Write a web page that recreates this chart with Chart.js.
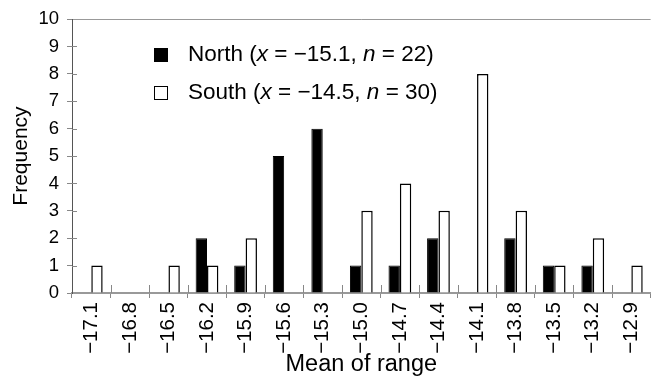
<!DOCTYPE html>
<html>
<head>
<meta charset="utf-8">
<script src="https://cdn.jsdelivr.net/npm/chart.js@4/dist/chart.umd.min.js"></script>
<style>
html, body { margin: 0; padding: 0; background: #fff; overflow: hidden; }
#caixa { width: 660px; height: 376px; position: relative; }
</style>
</head>
<body>
<div id="caixa"><canvas id="grafico"></canvas></div>
<script>
// categorias (média da amplitude)
const categorias = ['−17.1', '−16.8', '−16.5', '−16.2', '−15.9', '−15.6', '−15.3', '−15.0',
                    '−14.7', '−14.4', '−14.1', '−13.8', '−13.5', '−13.2', '−12.9'];
const north = [0, 0, 0, 2, 1, 5, 6, 1, 1, 2, 0, 2, 1, 1, 0];
const south = [1, 0, 1, 1, 2, 0, 0, 3, 4, 3, 8, 3, 1, 2, 1];
const yTicks = [0, 1, 2, 3, 4, 5, 6, 7, 8, 9, 10];

const legendaNorth = { nome: 'North', media: '−15.1', n: '22' };
const legendaSouth = { nome: 'South', media: '−14.5', n: '30' };

const FONTE = '"Liberation Sans", Arial, sans-serif';

// legenda com x e n em itálico, desenhada dentro do gráfico
const legendaPlugin = {
    id: 'legendaItalico',
    afterDraw(chart) {
        const ctx = chart.ctx;
        const linhas = [
            { item: legendaNorth, fill: '#000', y: 55 },
            { item: legendaSouth, fill: '#fff', y: 93 }
        ];
        ctx.save();
        ctx.textBaseline = 'middle';
        linhas.forEach(l => {
            ctx.fillStyle = l.fill;
            ctx.fillRect(154, l.y - 7, 14, 14);
            ctx.strokeStyle = '#000';
            ctx.lineWidth = 1;
            ctx.strokeRect(154.5, l.y - 6.5, 13, 13);
            const partes = [
                [l.item.nome + ' (', false],
                ['x', true],
                [' = ' + l.item.media + ', ', false],
                ['n', true],
                [' = ' + l.item.n + ')', false]
            ];
            let x = 188;
            ctx.fillStyle = '#000';
            partes.forEach(p => {
                ctx.font = (p[1] ? 'italic ' : '') + '22.5px ' + FONTE;
                ctx.fillText(p[0], x, l.y);
                x += ctx.measureText(p[0]).width;
            });
        });
        ctx.restore();
    }
};

// parte interna dos traços dos eixos (os traços cruzam o eixo)
const tracosPlugin = {
    id: 'tracos',
    afterDraw(chart) {
        const ctx = chart.ctx;
        const xs = chart.scales.x, ys = chart.scales.y;
        const area = chart.chartArea;
        ctx.save();
        ctx.strokeStyle = '#888';
        ctx.lineWidth = 1;
        ctx.beginPath();
        yTicks.forEach(v => {
            if (v === 0 || v === 10) return;
            const py = Math.round(ys.getPixelForValue(v)) + 0.5;
            ctx.moveTo(area.left, py);
            ctx.lineTo(area.left + 5, py);
        });
        for (let i = 1; i < categorias.length; i++) {
            const px = Math.round((xs.getPixelForTick(i - 1) + xs.getPixelForTick(i)) / 2) + 0.5;
            ctx.moveTo(px, area.bottom);
            ctx.lineTo(px, area.bottom - 8);
        }
        ctx.stroke();
        ctx.restore();
    }
};

const ctxGrafico = document.getElementById('grafico').getContext('2d');
const grafico = new Chart(ctxGrafico, {
    type: 'bar',
    data: {
        labels: categorias,
        datasets: [
            {
                label: 'North',
                data: north,
                backgroundColor: '#000',
                borderColor: '#000',
                borderWidth: 1,
                categoryPercentage: 0.59,
                barPercentage: 1
            },
            {
                label: 'South',
                data: south,
                backgroundColor: '#fff',
                borderColor: '#000',
                borderWidth: 1.5,
                categoryPercentage: 0.59,
                barPercentage: 1
            }
        ]
    },
    options: {
        responsive: true,
        maintainAspectRatio: false,
        animation: false,
        layout: { padding: { top: 18, right: 2, left: 0, bottom: 0 } },
        plugins: {
            legend: { display: false },
            tooltip: { enabled: false }
        },
        scales: {
            x: {
                afterFit: s => { s.height = 83; },
                border: { color: '#999', width: 2 },
                grid: {
                    offset: true,
                    drawOnChartArea: false,
                    tickLength: 5,
                    color: '#888'
                },
                ticks: {
                    color: '#000',
                    font: { family: FONTE, size: 20.5 },
                    minRotation: 90,
                    maxRotation: 90,
                    padding: 4,
                    autoSkip: false
                },
                title: {
                    display: true,
                    text: 'Mean of range',
                    color: '#000',
                    font: { family: FONTE, size: 23.5, lineHeight: 1 },
                    padding: { top: 0, bottom: 0 }
                }
            },
            y: {
                min: 0,
                max: 10,
                afterFit: s => { s.width = 72; },
                border: { color: '#555', width: 1 },
                grid: {
                    drawOnChartArea: true,
                    color: c => (c.tick && c.tick.value === 10 ? '#999' : 'rgba(0,0,0,0)'),
                    tickColor: '#888',
                    tickLength: 5
                },
                ticks: {
                    stepSize: 1,
                    color: '#000',
                    font: { family: FONTE, size: 18.5 },
                    padding: 8
                },
                title: {
                    display: true,
                    text: 'Frequency',
                    color: '#000',
                    font: { family: FONTE, size: 21, lineHeight: 1 },
                    padding: { top: 11, bottom: 0 }
                }
            }
        }
    },
    plugins: [legendaPlugin, tracosPlugin]
});
</script>
</body>
</html>
